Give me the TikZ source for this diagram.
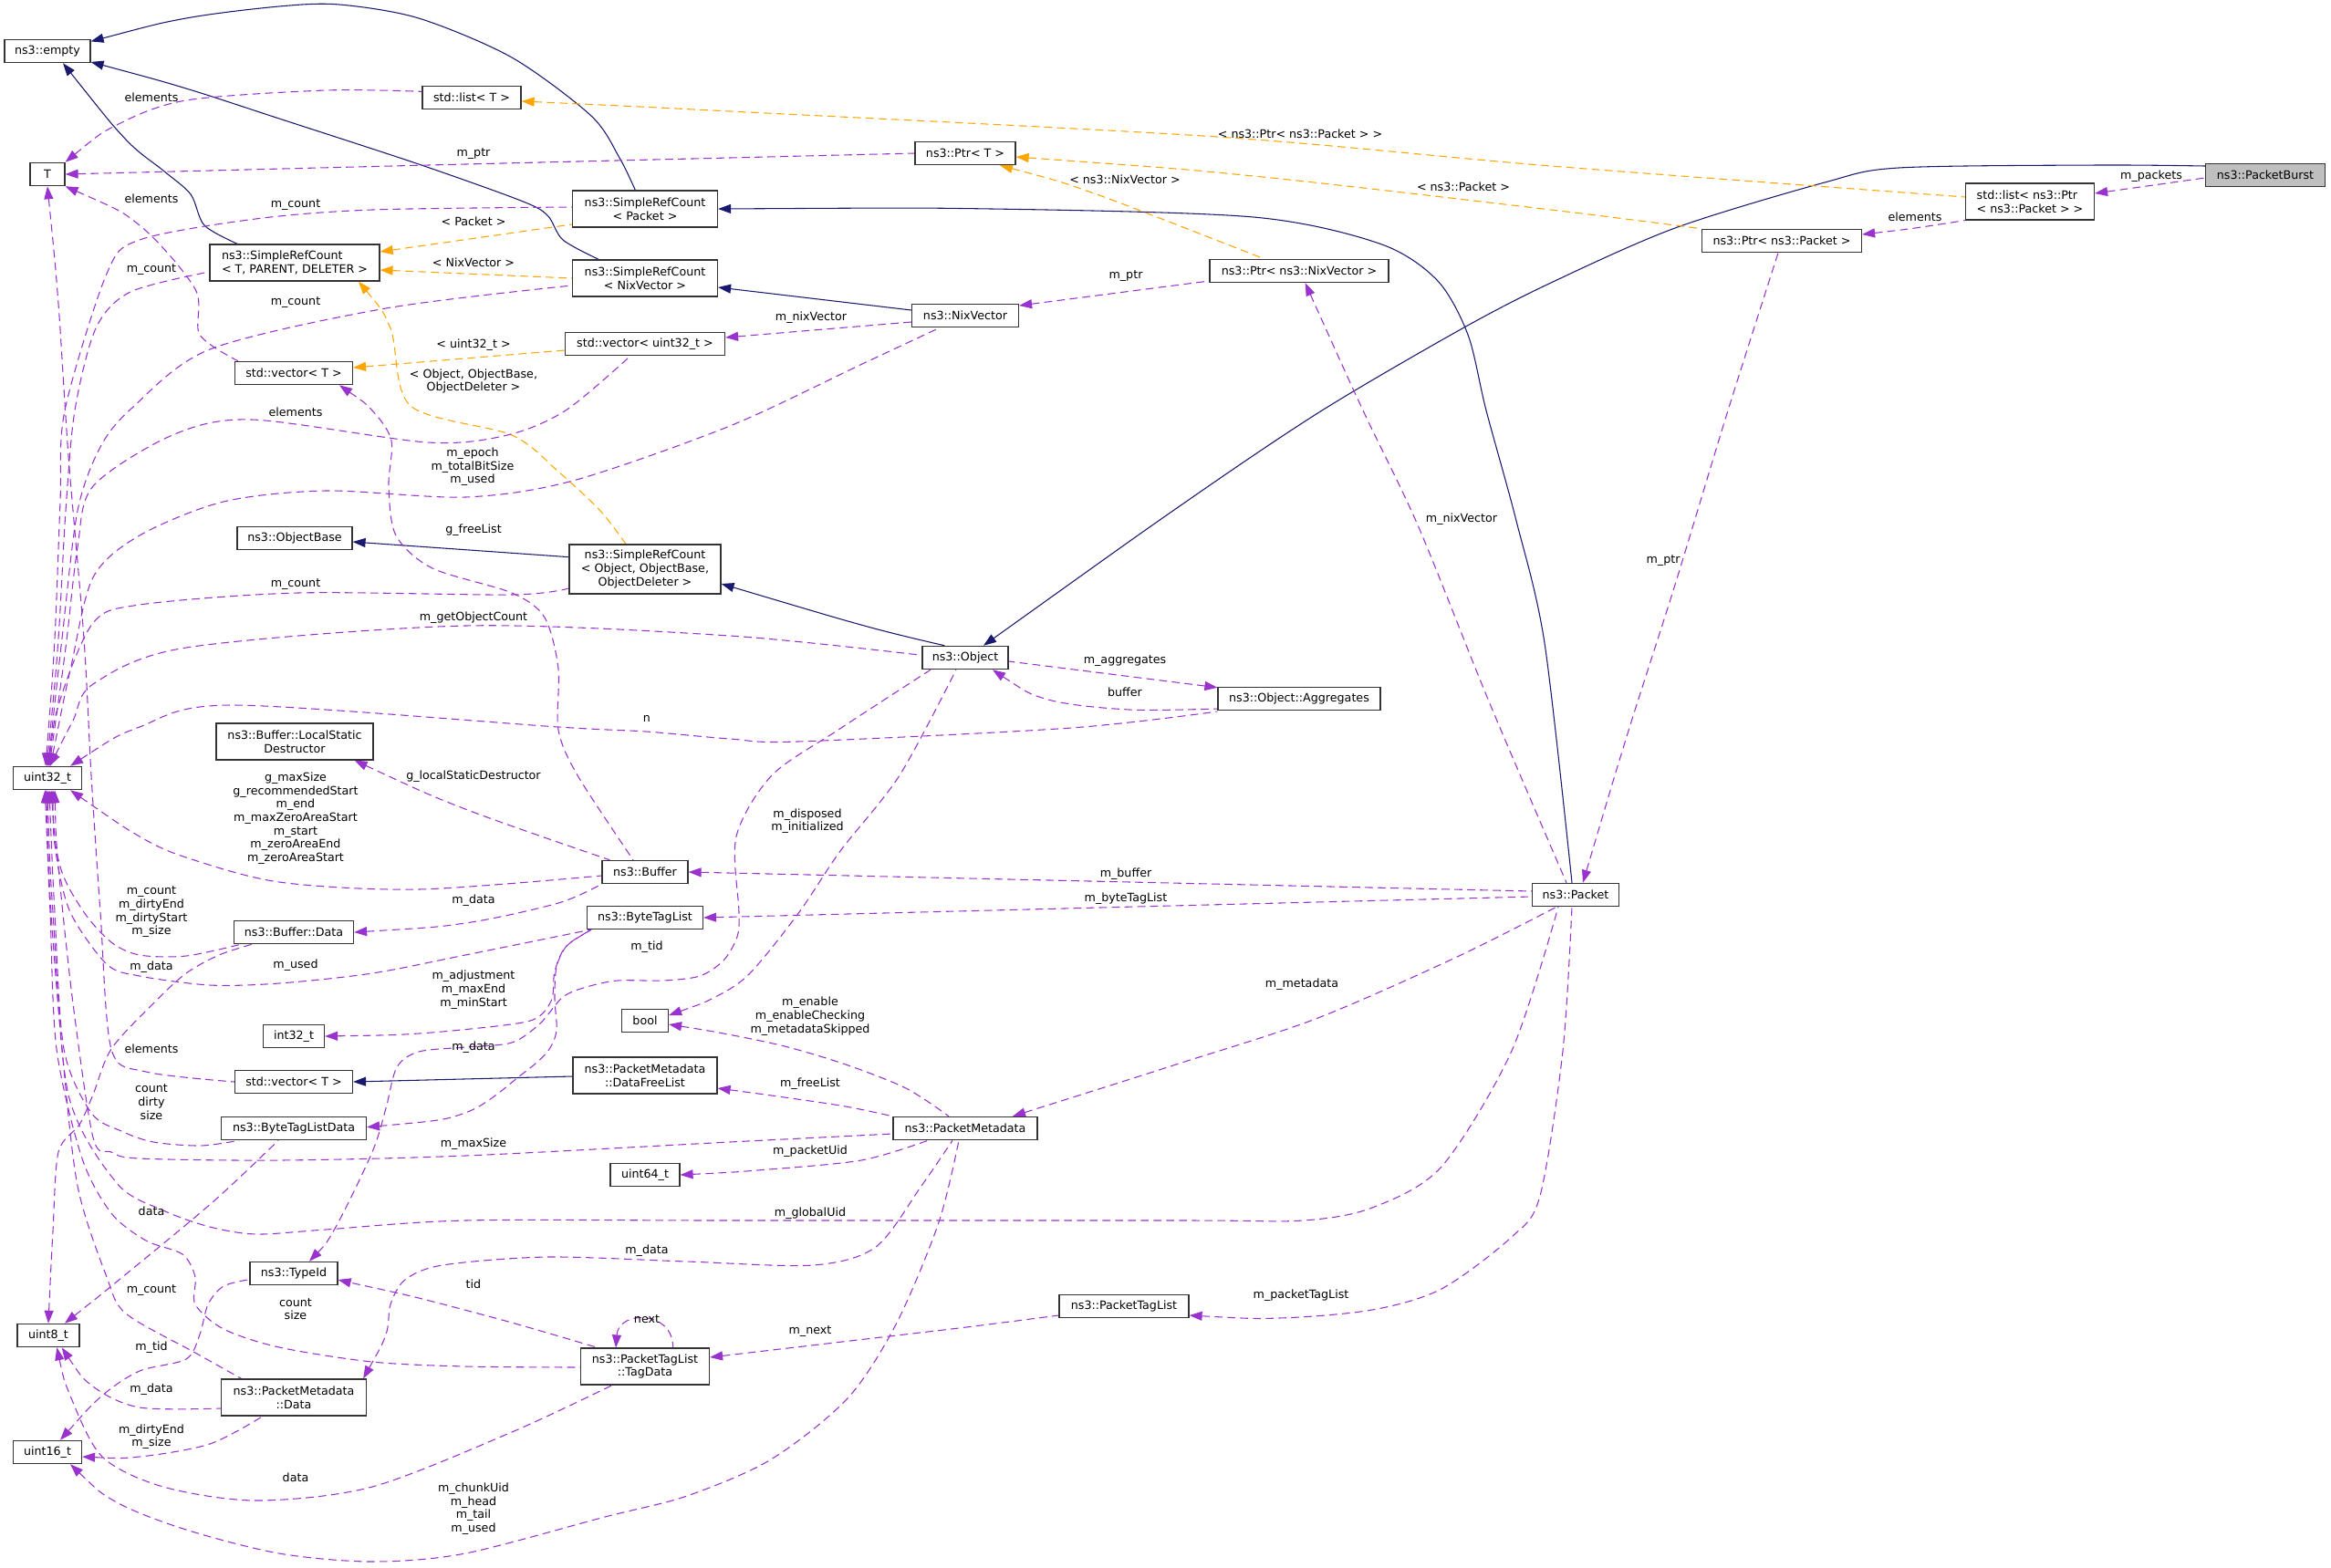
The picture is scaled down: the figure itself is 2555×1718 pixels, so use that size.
\documentclass[tikz,border=0pt]{standalone}
\usepackage{fontspec}
\setmainfont{DejaVu Sans}
\usetikzlibrary{arrows.meta,backgrounds}
\definecolor{navyc}{HTML}{191970}
\definecolor{purpc}{HTML}{9A32CD}
\definecolor{orngc}{HTML}{FFA500}
\definecolor{grayc}{HTML}{BFBFBF}
\definecolor{boxc}{HTML}{333333}
\newcommand\nodefnt{\fontsize{9.5}{11}\selectfont}
\begin{document}
\begin{tikzpicture}[x=0.75pt,y=-0.75pt,
  cls/.style={draw=boxc, line width=0.9pt, fill=white, inner sep=0pt, align=center, minimum height=19pt, font=\nodefnt},
  two/.style={minimum height=30pt},
  lbl/.style={inner sep=0pt, align=center, font=\nodefnt},
  inhline/.style={draw=navyc, line width=0.8pt, arrows={Triangle[length=10.5pt,width=7.5pt]-}},
  useline/.style={draw=purpc, line width=0.8pt, dash pattern=on 6.5pt off 4pt, arrows={Triangle[length=10.5pt,width=7.5pt]-}},
  tmplline/.style={draw=orngc, line width=0.8pt, dash pattern=on 6.5pt off 4pt, arrows={Triangle[length=10.5pt,width=7.5pt]-}},
  sm/.style={smooth, tension=0.5}
]
\useasboundingbox (0,0) rectangle (2555,1718);

% ---------- nodes ----------
\node[cls, minimum width=70.5pt] (empty) at (52,56) {ns3::empty};
\node[cls, minimum width=81pt] (stdlistT) at (517,107) {std::list< T >};
\node[cls, minimum width=28.5pt] (T) at (52,191) {T};
\node[cls, minimum width=82.5pt] (PtrT) at (1058,168) {ns3::Ptr< T >};
\node[cls, two, minimum width=119.25pt] (srcPacket) at (707,229) {ns3::SimpleRefCount\\< Packet >};
\node[cls, two, minimum width=139.5pt, align=left] (srcTPD) at (323,288) {ns3::SimpleRefCount\\< T, PARENT, DELETER >};
\node[cls, two, minimum width=119.25pt] (srcNix) at (707,305) {ns3::SimpleRefCount\\< NixVector >};
\node[cls, minimum width=131.25pt] (vecU32) at (707,377) {std::vector< uint32\_t >};
\node[cls, minimum width=96.75pt] (vecT1) at (322,409) {std::vector< T >};
\node[cls, minimum width=147pt] (PtrNix) at (1424,297) {ns3::Ptr< ns3::NixVector >};
\node[cls, minimum width=87.75pt] (Nix) at (1058,346) {ns3::NixVector};
\node[cls, minimum width=98.25pt, fill=grayc] (PB) at (2483,192) {ns3::PacketBurst};
\node[cls, two, minimum width=105.75pt, align=left] (listPtrPkt) at (2225,221) {std::list< ns3::Ptr\\< ns3::Packet > >};
\node[cls, minimum width=131.25pt] (PtrPkt) at (1953,264) {ns3::Ptr< ns3::Packet >};
\node[cls, minimum width=94.5pt] (ObjectBase) at (323,590) {ns3::ObjectBase};
\node[cls, minimum width=124.5pt, minimum height=40.5pt] (srcObj) at (707,624) {ns3::SimpleRefCount\\< Object, ObjectBase,\\ObjectDeleter >};
\node[cls, two, minimum width=129pt] (LSD) at (323,813) {ns3::Buffer::LocalStatic\\Destructor};
\node[cls, minimum width=56.25pt] (u32) at (52,853) {uint32\_t};
\node[cls, minimum width=70.5pt] (Object) at (1058,721) {ns3::Object};
\node[cls, minimum width=133.5pt] (Agg) at (1424,766) {ns3::Object::Aggregates};
\node[cls, minimum width=70.5pt] (Buffer) at (707,956) {ns3::Buffer};
\node[cls, minimum width=95.25pt] (BTL) at (707,1006) {ns3::ByteTagList};
\node[cls, minimum width=98.25pt] (BufData) at (322,1022) {ns3::Buffer::Data};
\node[cls, minimum width=38.25pt] (bool) at (707,1119) {bool};
\node[cls, minimum width=50.25pt] (i32) at (322,1136) {int32\_t};
\node[cls, two, minimum width=118.5pt] (DFL) at (707,1179) {ns3::PacketMetadata\\::DataFreeList};
\node[cls, minimum width=96.75pt] (vecT2) at (322,1186) {std::vector< T >};
\node[cls, minimum width=119.25pt] (BTLD) at (322,1237) {ns3::ByteTagListData};
\node[cls, minimum width=71.25pt] (Packet) at (1727,981) {ns3::Packet};
\node[cls, minimum width=118.5pt] (PM) at (1058,1237) {ns3::PacketMetadata};
\node[cls, minimum width=57pt] (u64) at (707,1288) {uint64\_t};
\node[cls, minimum width=72pt] (TypeId) at (322,1396) {ns3::TypeId};
\node[cls, minimum width=51pt] (u8) at (53,1464) {uint8\_t};
\node[cls, two, minimum width=119.25pt] (PMData) at (322,1532) {ns3::PacketMetadata\\::Data};
\node[cls, two, minimum width=105.75pt] (TagData) at (707,1498) {ns3::PacketTagList\\::TagData};
\node[cls, minimum width=106.5pt] (PTL) at (1232,1432) {ns3::PacketTagList};
\node[cls, minimum width=56.25pt] (u16) at (52,1592) {uint16\_t};

\begin{scope}[on background layer]
\fill[white] (0,0) rectangle (2555,1718);
% inheritance
\draw[inhline] plot[sm] coordinates {([yshift=-2pt]empty.north east) (204,20) (306,7) (372,5) (459,20) (561,63) (648,127) (679,173) ([xshift=-8pt]srcPacket.north)};
\draw[inhline] plot[sm] coordinates {([yshift=1pt]empty.south east) (204,97) (306,130) (459,180) (571,220) (600,236) (617,263) ([xshift=-38pt]srcNix.north)};
\draw[inhline] plot[sm] coordinates {([xshift=12.75pt]empty.south) (138,153) (179,187) (209,213) (224,247) ([xshift=-47pt]srcTPD.north)};
\draw[inhline] plot[sm] coordinates {(srcPacket.east) (1087,229) (1374,238) (1512,267) (1575,307) (1609,367) (1629,450) (1662,571) (1693,705) ([xshift=-3pt]Packet.north)};
\draw[inhline] ([yshift=-7.5pt]srcNix.east) -- ([yshift=4.5pt]Nix.west);
\draw[inhline] plot[sm] coordinates {([xshift=15pt]Object.north) (1300,550) (1449,450) (1603,360) (1700,310) (1836,250) (2000,200) (2081,184) (2300,181) ([yshift=7.5pt]PB.west)};
\draw[inhline] plot[sm] coordinates {([yshift=-12pt]srcObj.east) (951,687) ([xshift=-17pt]Object.north)};
\draw[inhline] ([yshift=-3pt]ObjectBase.east) -- ([yshift=10pt]srcObj.west);
\draw[inhline] (vecT2.east) -- ([yshift=-0.75pt]DFL.west);

% templates
\draw[tmplline] plot[sm] coordinates {([yshift=-3pt]stdlistT.east) (800,122) (1334,150) (1700,182) ([yshift=3.75pt]listPtrPkt.west)};
\draw[tmplline] plot[sm] coordinates {([yshift=-3pt]PtrT.east) (1374,193) (1700,230) (PtrPkt.north west)};
\draw[tmplline] plot[sm] coordinates {([xshift=28.5pt]PtrT.south) (1202,213) ([xshift=-29pt]PtrNix.north)};
\draw[tmplline] ([yshift=9pt]srcTPD.east) -- ([yshift=-12.75pt]srcPacket.west);
\draw[tmplline] ([yshift=-6pt]srcTPD.east) -- (srcNix.west);
\draw[tmplline] plot[sm] coordinates {([xshift=52.5pt]srcTPD.south) (428,360) (450,445) (561,477) (612,517) (658,560) ([xshift=-15.75pt]srcObj.north)};
\draw[tmplline] ([yshift=4.5pt]vecT1.east) -- ([yshift=-5.25pt]vecU32.west);

% usage (right part)
\draw[useline] ([yshift=6.75pt]listPtrPkt.east) -- ([yshift=-2.25pt]PB.west);
\draw[useline] plot[sm] coordinates {([yshift=5.25pt]PtrPkt.east) (2099,250) (listPtrPkt.south west)};
\draw[useline] plot[sm] coordinates {([xshift=6pt]Packet.north) (1785,801) (1836,641) (1894,450) ([xshift=-3pt]PtrPkt.south)};
\draw[useline] plot[sm] coordinates {([xshift=5pt]PtrNix.south) (1494,450) (1555,578) (1632,769) ([xshift=-7.5pt]Packet.north)};
\draw[useline] ([yshift=8.25pt]Nix.east) -- ([yshift=-8.25pt]PtrNix.west);
\draw[useline] ([yshift=5.25pt]vecU32.east) -- ([yshift=-5.25pt]Nix.west);

% to uint32_t from above
\draw[useline] plot[sm] coordinates {([xshift=-1.5pt]u32.north) (60,700) (66,550) (71,450) (117,300) (153,263) (280,240) (408,230) ([yshift=1.5pt]srcPacket.west)};
\draw[useline] plot[sm] coordinates {([xshift=-0.5pt]u32.north) (64,700) (72,560) (82,450) (105,360) (143,320) ([yshift=-7.5pt]srcTPD.west)};
\draw[useline] plot[sm] coordinates {([xshift=0.5pt]u32.north) (68,700) (85,560) (110,490) (145,447) (230,383) (423,338) ([yshift=-6pt]srcNix.west)};
\draw[useline] plot[sm] coordinates {([xshift=1.5pt]u32.north) (72,710) (85,600) (102,533) (189,477) (276,460) (469,485) (556,477) (620,450) ([xshift=-12pt]vecU32.south)};
\draw[useline] plot[sm] coordinates {([xshift=2.5pt]u32.north) (78,730) (102,633) (153,587) (245,550) (357,538) (510,545) (628,527) (800,467) (943,400) ([xshift=-21pt]Nix.south)};
\draw[useline] plot[sm] coordinates {([xshift=1pt]u32.north) (66,767) (102,683) (153,663) (326,650) (561,652) ([yshift=-15.75pt]srcObj.west)};
\draw[useline] plot[sm] coordinates {([xshift=2pt]u32.north) (80,790) (102,750) (204,710) (510,686) (800,697) ([yshift=2pt]Object.west)};
\draw[useline] plot[sm] coordinates {([xshift=-9.75pt]u32.north east) (153,797) (255,773) (612,797) (708,802) (800,810) (874,813) (1174,798) ([yshift=-10.5pt]Agg.west)};

% to T
\draw[useline] plot[sm] coordinates {(T.north east) (128,137) (204,110) (357,99) ([yshift=5pt]stdlistT.west)};
\draw[useline] plot[sm] coordinates {(T.east) (510,180) (800,173) (PtrT.west)};
\draw[useline] plot[sm] coordinates {(T.south east) (153,247) (214,317) (219,367) ([xshift=3pt]vecT1.north west)};
\draw[useline] plot[sm] coordinates {(T.south) (64,333) (75,500) (92,700) (100,850) (110,1000) (122,1150) (160,1175) (vecT2.west)};

% Buffer
\draw[useline] plot[sm] coordinates {([xshift=37.5pt]vecT1.south) (408,450) (429,483) (426,533) (434,587) (474,623) (561,650) (597,677) (612,733) (612,800) (633,850) ([xshift=-9.75pt]Buffer.north)};
\draw[useline] plot[sm] coordinates {([xshift=-15.75pt]LSD.south east) (510,887) ([xshift=-29pt]Buffer.north)};
\draw[useline] plot[sm] coordinates {([xshift=-9.75pt]u32.south east) (153,917) (204,940) (306,967) (459,975) ([yshift=-3pt]Buffer.west)};
\draw[useline] plot[sm] coordinates {(BufData.east) (510,1012) (612,990) (Buffer.south west)};

% Buffer::Data
\draw[useline] plot[sm] coordinates {([xshift=3pt]u32.south) (66,950) (92,1000) (122,1033) (153,1047) (204,1048) ([xshift=6pt]BufData.south west)};
\draw[useline] plot[sm] coordinates {(u8.north) (58,1350) (64,1263) (87,1233) (102,1200) (122,1150) (168,1100) (204,1067) (240,1047) ([xshift=-34.5pt]BufData.south)};

% ByteTagList
\draw[useline] plot[sm] coordinates {([xshift=4.5pt]u32.south) (61,933) (77,1000) (117,1057) (153,1070) (230,1080) (306,1078) (408,1067) (510,1047) ([xshift=3pt]BTL.south west)};
\draw[useline] plot[sm] coordinates {(i32.east) (459,1133) (560,1123) (590,1115) (605,1095) (608,1065) (620,1038) ([xshift=4pt]BTL.south west)};
\draw[useline] plot[sm] coordinates {([yshift=1pt]BTLD.east) (510,1220) (573,1177) (600,1153) (610,1130) (608,1095) (610,1060) (622,1036) ([xshift=4pt]BTL.south west)};

% Object
\draw[useline] plot[sm] coordinates {([xshift=12.75pt]TypeId.north) (367,1347) (408,1263) (423,1215) (435,1170) (459,1153) (510,1148) (561,1143) (592,1122) (617,1093) (643,1082) (677,1075) (727,1075) (767,1070) (793,1053) (808,1027) (810,1000) (807,917) (846,850) (919,800) ([xshift=-28.5pt]Object.south)};
\draw[useline] plot[sm] coordinates {([yshift=4.5pt]bool.east) (784,1093) (822,1067) (876,1000) (921,933) (986,850) ([xshift=-7.5pt]Object.south)};
\draw[useline] ([yshift=-0.75pt]Agg.north west) -- ([yshift=-3pt]Object.east);
\draw[useline] plot[sm] coordinates {([xshift=22.5pt]Object.south) (1149,767) (1238,778) ([yshift=-8.25pt]Agg.west)};

% Packet
\draw[useline] (Buffer.east) -- ([yshift=3pt]Packet.west);
\draw[useline] (BTL.east) -- ([yshift=-1.5pt]Packet.west);
\draw[useline] plot[sm] coordinates {([xshift=39pt]PM.north) (1289,1167) (1442,1117) (1595,1050) ([xshift=-15.75pt]Packet.south)};
\draw[useline] plot[sm] coordinates {(u32.south) (58,1000) (75,1200) (128,1297) (179,1327) (230,1345) (281,1353) (357,1348) (510,1338) (800,1338) (1300,1338) (1428,1338) (1504,1324) (1580,1279) (1657,1152) ([xshift=-14.25pt]Packet.south)};
\draw[useline] plot[sm] coordinates {([yshift=-7.5pt]PTL.east) (1402,1445) (1504,1436) (1580,1413) (1657,1356) (1688,1311) (1713,1152) ([xshift=-3pt]Packet.south)};

% PacketMetadata
\draw[useline] plot[sm] coordinates {([yshift=-3pt]bool.east) (793,1133) (860,1147) (927,1167) (993,1193) ([xshift=-13.5pt]PM.north)};
\draw[useline] plot[sm] coordinates {([yshift=-10.5pt]DFL.east) (860,1203) (927,1213) (PM.north west)};
\draw[useline] plot[sm] coordinates {(u64.east) (830,1283) (944,1272) ([xshift=-30.75pt]PM.south)};
\draw[useline] plot[sm] coordinates {([xshift=-3pt]PMData.north east) (423,1463) (428,1430) (444,1403) (485,1387) (600,1378) (753,1383) (891,1387) (960,1367) (1010,1300) ([xshift=-10.5pt]PM.south)};
\draw[useline] plot[sm] coordinates {([xshift=-9.75pt]u16.south east) (128,1647) (204,1677) (306,1703) (408,1712) (510,1703) (663,1663) (753,1640) (845,1600) (929,1533) (983,1450) (1029,1340) ([xshift=-5.25pt]PM.south)};
\draw[useline] plot[sm] coordinates {([xshift=6pt]u32.south) (64,950) (80,1100) (102,1247) (122,1263) (153,1270) (306,1272) (510,1267) (800,1252) ([yshift=-4.5pt]PM.west)};

% ByteTagListData
\draw[useline] plot[sm] coordinates {([xshift=1.5pt]u32.south) (60,1000) (70,1150) (100,1220) (133,1240) (168,1252) (220,1256) ([xshift=15pt]BTLD.south west)};
\draw[useline] plot[sm] coordinates {([xshift=13.5pt]u8.north) (133,1401) (233,1318) ([xshift=-12.75pt]BTLD.south)};

% TypeId
\draw[useline] plot[sm] coordinates {([xshift=10.5pt]u16.north) (112,1530) (153,1503) (204,1490) (219,1463) (228,1430) (245,1410) ([yshift=-5pt]TypeId.west)};

% PacketMetadata::Data
\draw[useline] plot[sm] coordinates {([xshift=-1pt]u32.south) (56,1000) (68,1150) (85,1300) (117,1400) (138,1440) (214,1483) ([xshift=-43pt]PMData.north)};
\draw[useline] plot[sm] coordinates {([xshift=11pt]u8.south) (102,1520) (153,1543) ([yshift=-9pt]PMData.west)};
\draw[useline] plot[sm] coordinates {([yshift=-3.75pt]u16.east) (153,1597) (230,1583) ([xshift=-25.5pt]PMData.south)};

% PacketTagList::TagData
\draw[useline] plot[sm] coordinates {([xshift=7pt]u8.south) (77,1530) (112,1597) (179,1630) (281,1645) (408,1630) (561,1570) ([xshift=-27pt]TagData.south)};
\draw[useline] plot[sm] coordinates {([xshift=-2pt]u32.south) (55,1000) (62,1150) (90,1270) (122,1330) (160,1360) (200,1375) (214,1400) (214,1430) (245,1457) (306,1477) (408,1493) (510,1498) ([yshift=-0.75pt]TagData.west)};
\draw[useline] plot[sm] coordinates {([yshift=-5.25pt]TypeId.east) (388,1407) (459,1423) (561,1450) ([xshift=-39pt]TagData.north)};
\draw[useline] ([xshift=-24pt]TagData.north) .. controls (678,1436) and (738,1436) .. ([xshift=23pt]TagData.north);
\draw[useline] plot[sm] coordinates {([yshift=7.5pt]TagData.east) (906,1473) (1059,1455) ([yshift=-7.5pt]PTL.west)};
\end{scope}

% ---------- labels ----------
\node[lbl] (l01) at (166,107) {elements};
\node[lbl] (l02) at (519,169) {m\_ptr};
\node[lbl] (l03) at (166,218) {elements};
\node[lbl] (l04) at (324,225) {m\_count};
\node[lbl] (l05) at (519,243) {< Packet >};
\node[lbl] (l06) at (166,296) {m\_count};
\node[lbl] (l07) at (519,288) {< NixVector >};
\node[lbl] (l08) at (324,332) {m\_count};
\node[lbl] (l09) at (519,378) {< uint32\_t >};
\node[lbl] (l10) at (519,418) {< Object, ObjectBase,\\ObjectDeleter >};
\node[lbl] (l11) at (324,452) {elements};
\node[lbl] (l12) at (518,512) {m\_epoch\\m\_totalBitSize\\m\_used};
\node[lbl] (l13) at (519,581) {g\_freeList};
\node[lbl] (l14) at (324,641) {m\_count};
\node[lbl] (l15) at (519,677) {m\_getObjectCount};
\node[lbl] (l16) at (709,788) {n};
\node[lbl] (l17) at (519,851) {g\_localStaticDestructor};
\node[lbl] (l18) at (324,897) {g\_maxSize\\g\_recommendedStart\\m\_end\\m\_maxZeroAreaStart\\m\_start\\m\_zeroAreaEnd\\m\_zeroAreaStart};
\node[lbl] (l19) at (519,987) {m\_data};
\node[lbl] (l20) at (166,1000) {m\_count\\m\_dirtyEnd\\m\_dirtyStart\\m\_size};
\node[lbl] (l21) at (324,1058) {m\_used};
\node[lbl] (l22) at (166,1060) {m\_data};
\node[lbl] (l23) at (709,1038) {m\_tid};
\node[lbl] (l24) at (519,1085) {m\_adjustment\\m\_maxEnd\\m\_minStart};
\node[lbl] (l25) at (519,1148) {m\_data};
\node[lbl] (l26) at (166,1150) {elements};
\node[lbl] (l27) at (166,1208) {count\\dirty\\size};
\node[lbl] (l28) at (519,1254) {m\_maxSize};
\node[lbl] (l29) at (888,1262) {m\_packetUid};
\node[lbl] (l30) at (888,1188) {m\_freeList};
\node[lbl] (l31) at (888,1114) {m\_enable\\m\_enableChecking\\m\_metadataSkipped};
\node[lbl] (l32) at (885,900) {m\_disposed\\m\_initialized};
\node[lbl] (l33) at (1233,725) {m\_aggregates};
\node[lbl] (l34) at (1233,759) {buffer};
\node[lbl] (l35) at (1234,958) {m\_buffer};
\node[lbl] (l36) at (1234,985) {m\_byteTagList};
\node[lbl] (l37) at (1427,1079) {m\_metadata};
\node[lbl] (l38) at (888,1330) {m\_globalUid};
\node[lbl] (l39) at (166,1328) {data};
\node[lbl] (l40) at (709,1371) {m\_data};
\node[lbl] (l41) at (519,1408) {tid};
\node[lbl] (l42) at (166,1415) {m\_count};
\node[lbl] (l43) at (324,1435) {count\\size};
\node[lbl] (l44) at (709,1446) {next};
\node[lbl] (l45) at (888,1460) {m\_next};
\node[lbl] (l46) at (1426,1420) {m\_packetTagList};
\node[lbl] (l47) at (166,1477) {m\_tid};
\node[lbl] (l48) at (166,1523) {m\_data};
\node[lbl] (l49) at (166,1575) {m\_dirtyEnd\\m\_size};
\node[lbl] (l50) at (324,1620) {data};
\node[lbl] (l51) at (519,1654) {m\_chunkUid\\m\_head\\m\_tail\\m\_used};
\node[lbl] (l52) at (1602,569) {m\_nixVector};
\node[lbl] (l53) at (1823,615) {m\_ptr};
\node[lbl] (l54) at (1234,303) {m\_ptr};
\node[lbl] (l55) at (889,348) {m\_nixVector};
\node[lbl] (l56) at (2358,193) {m\_packets};
\node[lbl] (l57) at (2099,238) {elements};
\node[lbl] (l58) at (1425,147) {< ns3::Ptr< ns3::Packet > >};
\node[lbl] (l59) at (1604,205) {< ns3::Packet >};
\node[lbl] (l60) at (1233,197) {< ns3::NixVector >};
\end{tikzpicture}
\end{document}
